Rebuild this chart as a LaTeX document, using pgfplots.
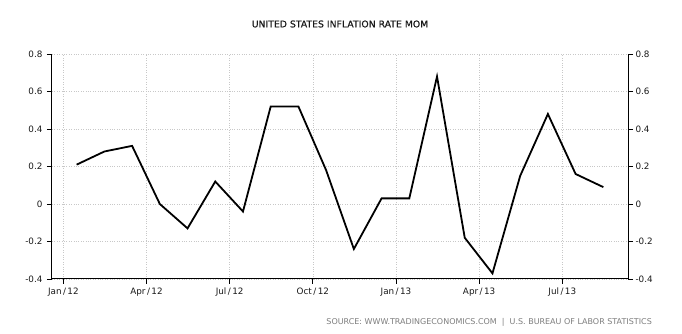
\documentclass[border=0pt]{standalone}
\usepackage{fontspec}
\setmainfont{DejaVu Sans}
\newfontfamily\titlefont[FakeBold=0.6]{DejaVu Sans}
\usepackage{pgfplots}
\pgfplotsset{compat=1.18}
\definecolor{gridgray}{RGB}{200,200,200}
\definecolor{srcgray}{RGB}{125,125,125}
\definecolor{txt}{RGB}{25,25,25}
\pgfplotsset{
  common/.style={
    at={(0pt,0pt)}, anchor=south west,
    scale only axis, width=576pt, height=225pt,
    xmin=-0.41, xmax=20.37, ymin=-0.4, ymax=0.8,
    axis line style={black, line width=1pt, -},
    tick align=outside, major tick length=5pt,
    tick style={black, line width=0.9pt},
    ytick={-0.4,-0.2,0,0.2,0.4,0.6,0.8},
    yticklabels={-0.4,-0.2,0,0.2,0.4,0.6,0.8},
    tick label style={font=\fontsize{8.8}{10}\selectfont, text=txt},
  }
}
\begin{document}
\begin{tikzpicture}
\path[use as bounding box] (-52pt,-55pt) rectangle (630pt,279pt);
\begin{axis}[common,
  axis x line*=bottom, axis y line*=left,
  xtick={0,3,6,9,12,15,18},
  xticklabels={Jan\,/\,12, Apr\,/\,12, Jul\,/\,12, Oct\,/\,12, Jan\,/\,13, Apr\,/\,13, Jul\,/\,13},
  yticklabel style={xshift=-1pt},
  grid=major, grid style={gridgray, dotted, line width=0.6pt},
  title={UNITED STATES INFLATION RATE MOM},
  title style={at={(axis description cs:0.5,1)}, anchor=center, yshift=24pt,
    font=\titlefont\fontsize{9.3}{11}\selectfont, text=txt},
]
\addplot[black, line width=1.8pt] coordinates {
(0.48,0.21) (1.48,0.28) (2.48,0.31) (3.48,0.00) (4.48,-0.13)
(5.48,0.12) (6.48,-0.04) (7.48,0.52) (8.48,0.52) (9.48,0.18)
(10.48,-0.24) (11.48,0.03) (12.48,0.03) (13.48,0.68) (14.48,-0.18)
(15.48,-0.37) (16.48,0.15) (17.48,0.48) (18.48,0.16) (19.48,0.09)
};
\end{axis}
\begin{axis}[common,
  axis x line=none, axis y line*=right,
  yticklabel style={xshift=-1pt},
]
\end{axis}
\node[anchor=east, text=srcgray, font=\fontsize{8}{10}\selectfont, inner sep=0pt] at (600pt,-43.5pt)
  {SOURCE: WWW.TRADINGECONOMICS.COM \ | \ U.S. BUREAU OF LABOR STATISTICS};
\end{tikzpicture}
\end{document}
